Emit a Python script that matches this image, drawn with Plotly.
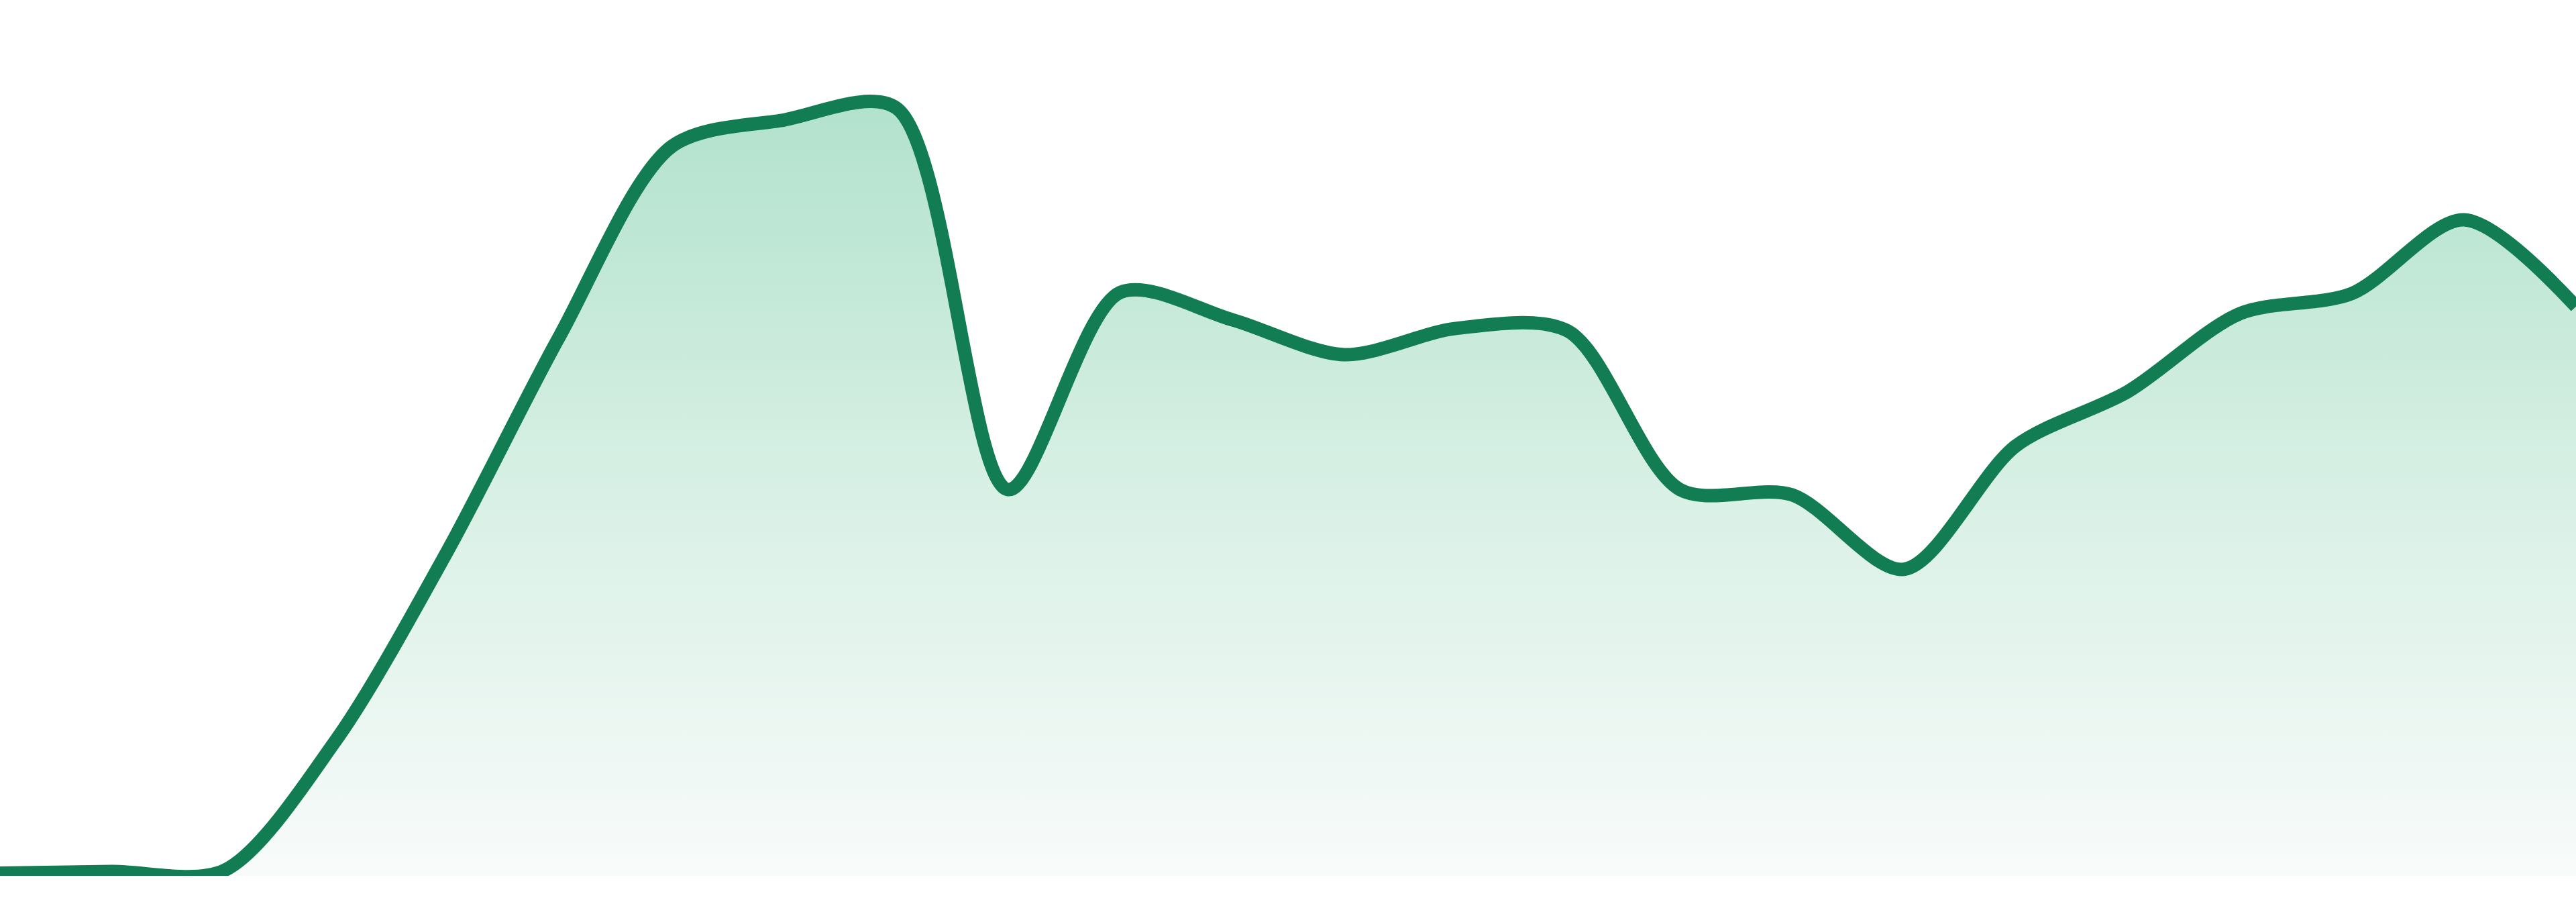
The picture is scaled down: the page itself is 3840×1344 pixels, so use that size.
import plotly.graph_objects as go

# evenly spaced samples across the full width
x_idx = list(range(24))
values = [0.3, 0.5, 0.6, 15.5, 37.2, 61.7, 83.3, 86.3, 87.7, 44.1, 66.6, 63.5,
          59.5, 62.5, 62.2, 44.1, 43.5, 35.0, 49.1, 55.3, 64.2, 66.5, 74.9, 65.0]

line_color = "#127c52"
fill_scale = [[0.0, "#f8fbfa"], [0.5, "#d8f0e5"], [1.0, "#b2e2cd"]]

fig = go.Figure()
fig.add_trace(go.Scatter(
    x=x_idx,
    y=values,
    mode="lines",
    line=dict(color=line_color, width=20, shape="spline", smoothing=0.85),
    fill="tozeroy",
    fillgradient=dict(type="vertical", colorscale=fill_scale, start=0, stop=88),
    hoverinfo="skip",
    showlegend=False,
))

fig.update_layout(
    width=3840,
    height=1344,
    margin=dict(l=0, r=0, t=0, b=39),
    paper_bgcolor="white",
    plot_bgcolor="white",
    xaxis=dict(range=[0, 23], visible=False, fixedrange=True),
    yaxis=dict(range=[0, 100], visible=False, fixedrange=True),
)

fig.write_html("out.html", config={"displayModeBar": False},
               post_script="document.body.style.margin='0';")
